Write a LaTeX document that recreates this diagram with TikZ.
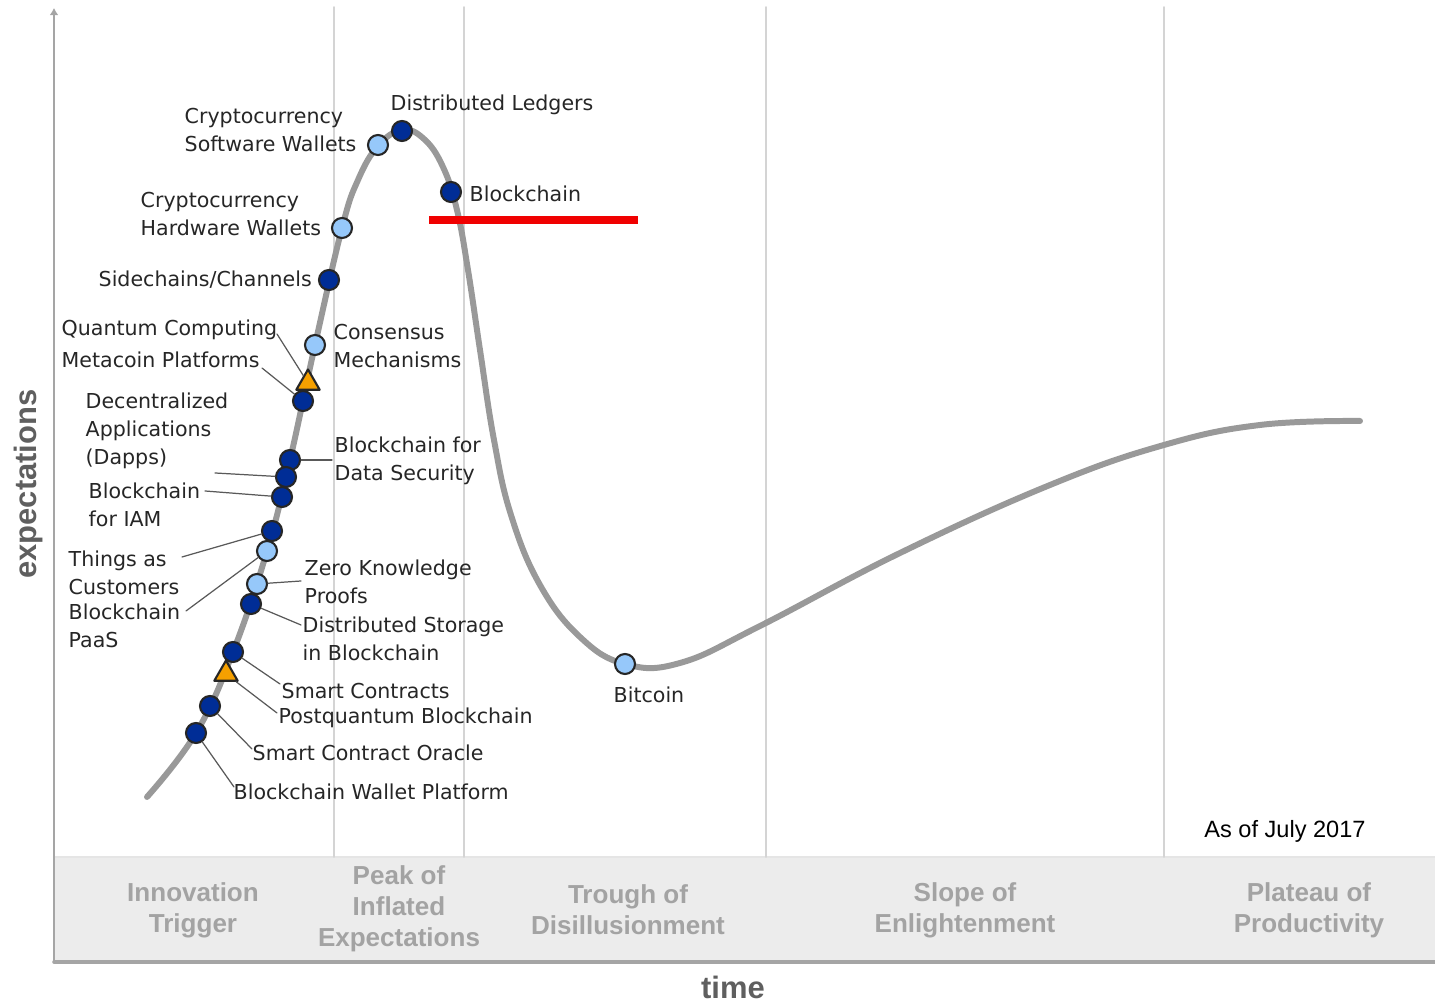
\documentclass[tikz,border=0pt]{standalone}
\usepackage{fontspec}
\usepackage{tikz}
\usetikzlibrary{shapes.geometric}
\usetikzlibrary{arrows.meta}
\newfontfamily\lblfont{DejaVu Sans}
\newfontfamily\bandfont{Liberation Sans}
\definecolor{curvegray}{RGB}{153,153,153}
\definecolor{phasegray}{RGB}{212,212,212}
\definecolor{axisgray}{RGB}{165,165,165}
\definecolor{bandfill}{RGB}{236,236,236}
\definecolor{bandtext}{RGB}{163,163,163}
\definecolor{axistext}{RGB}{95,95,95}
\definecolor{dotdark}{RGB}{0,45,150}
\definecolor{dotlight}{RGB}{150,200,250}
\definecolor{triorange}{RGB}{245,160,0}
\definecolor{markred}{RGB}{240,0,0}

\begin{document}
\begin{tikzpicture}[x=0.01cm,y=-0.01cm,line cap=round,line join=round,
  hype/.style={line width=1.7pt,color=curvegray},
  phase/.style={line width=0.45pt,color=phasegray},
  axis/.style={line width=0.8pt,color=axisgray},
  darkdot/.style={circle,draw=black!85,line width=0.6pt,fill=dotdark,inner sep=0pt,minimum size=2mm},
  lightdot/.style={circle,draw=black!85,line width=0.6pt,fill=dotlight,inner sep=0pt,minimum size=2mm},
  risk/.style={regular polygon,regular polygon sides=3,draw=black!85,line width=0.6pt,fill=triorange,inner sep=0pt,minimum size=2.7mm},
  lbl/.style={font={\lblfont\fontsize{5.85}{8}\selectfont},text=black!85,inner sep=0pt,align=left},
  leader/.style={line width=0.35pt,color=black!65},
  band/.style={font={\bandfont\bfseries\fontsize{7.4}{8.8}\selectfont},text=bandtext,align=center},
  axlbl/.style={font={\bandfont\bfseries\fontsize{8.8}{10}\selectfont},text=axistext}]
\useasboundingbox (0,0) rectangle (1435,1001);
\fill[bandfill] (54,857) rectangle (1435,962);
\draw[color=white!90!black,line width=0.4pt] (54,857) -- (1435,857);
\draw[phase] (334,7) -- (334,857);
\draw[phase] (464,7) -- (464,857);
\draw[phase] (766,7) -- (766,857);
\draw[phase] (1164,7) -- (1164,857);
\draw[axis,line width=1pt] (54,962) -- (1435,962);
\draw[axis,-{Latex[length=2pt,width=2.5pt]}] (54,962) -- (54,8);
\node[band] (it) at (193,910) {Innovation\\Trigger};
\node[band] (pie) at (399,909) {Peak of\\Inflated\\Expectations};
\node[band] (td) at (628,910) {Trough of\\Disillusionment};
\node[band] (se) at (965,910) {Slope of\\Enlightenment};
\node[band] (pp) at (1309,910) {Plateau of\\Productivity};
\node[axlbl] (time) at (733,987) {time};
\node[axlbl,rotate=90] (expect) at (28,484) {expectations};
\node[font={\bandfont\fontsize{6.7}{8}\selectfont},inner sep=0pt] (asof) at (1285,831) {As of July 2017};
\draw[hype] plot[smooth,tension=0.7] coordinates {(147,797) (196,733) (233,652) (267,551) (290,460) (315,345) (342,228) (358,180) (378,146) (402,130) (424,139) (443,167) (457,210) (468,270) (480,350) (494,440) (511,515) (540,585) (580,637) (625,664) (680,663) (760,626) (900,553) (1050,485) (1164,445) (1260,425) (1360,421)};
\draw[color=markred,line width=2pt,line cap=butt] (429,220) -- (638,220);
\node[darkdot] (dl) at (402,131) {};
\node[lightdot] (csw) at (378,145) {};
\node[darkdot] (bc) at (451,192) {};
\node[lightdot] (chw) at (342,228) {};
\node[darkdot] (sc) at (329,280) {};
\node[lightdot] (cm) at (315,345) {};
\node[risk] (qc) at (308,383) {};
\node[darkdot] (mp) at (303,401) {};
\node[darkdot] (bds) at (290,460) {};
\node[darkdot] (dapps) at (286,477) {};
\node[darkdot] (iam) at (282,497) {};
\node[darkdot] (tac) at (272,531) {};
\node[lightdot] (paas) at (267,551) {};
\node[lightdot] (zkp) at (257,584) {};
\node[darkdot] (dsb) at (251,604) {};
\node[darkdot] (smc) at (233,652) {};
\node[risk] (pqb) at (226,674) {};
\node[darkdot] (sco) at (210,706) {};
\node[darkdot] (bwp) at (196,733) {};
\node[lightdot] (btc) at (625,664) {};
\node[lbl,anchor=west] (dl-t) at (390,105) {Distributed Ledgers};
\node[lbl,anchor=west] (csw-t) at (184,130) {Cryptocurrency\\Software Wallets};
\node[lbl,anchor=west] (bc-t) at (469,194) {Blockchain};
\node[lbl,anchor=west] (chw-t) at (140,214) {Cryptocurrency\\Hardware Wallets};
\node[lbl,anchor=west] (sc-t) at (98,280) {Sidechains/Channels};
\node[lbl,anchor=west] (qc-t) at (61,330) {Quantum Computing};
\node[lbl,anchor=west] (mp-t) at (61,360) {Metacoin Platforms};
\node[lbl,anchor=west] (cm-t) at (333,346) {Consensus\\Mechanisms};
\node[lbl,anchor=west] (dapps-t) at (85,431) {Decentralized\\Applications\\(Dapps)};
\node[lbl,anchor=west] (bds-t) at (334,461) {Blockchain for\\Data Security};
\node[lbl,anchor=west] (iam-t) at (88,505) {Blockchain\\for IAM};
\node[lbl,anchor=west] (tac-t) at (68,573) {Things as\\Customers};
\node[lbl,anchor=west] (paas-t) at (68,626) {Blockchain\\PaaS};
\node[lbl,anchor=west] (zkp-t) at (304,582) {Zero Knowledge\\Proofs};
\node[lbl,anchor=west] (dsb-t) at (302,639) {Distributed Storage\\in Blockchain};
\node[lbl,anchor=west] (smc-t) at (281,691) {Smart Contracts};
\node[lbl,anchor=west] (pqb-t) at (278,718) {Postquantum Blockchain};
\node[lbl,anchor=west] (sco-t) at (252,753) {Smart Contract Oracle};
\node[lbl,anchor=west] (bwp-t) at (233,792) {Blockchain Wallet Platform};
\node[lbl] (btc-t) at (649,695) {Bitcoin};
\coordinate (qc-e) at (277,334);
\coordinate (mp-e) at (262,368);
\coordinate (bds-e) at (332,460);
\coordinate (dapps-e) at (215,473);
\coordinate (iam-e) at (205,491);
\coordinate (tac-e) at (182,557);
\coordinate (paas-e) at (186,611);
\coordinate (zkp-e) at (301,581);
\coordinate (dsb-e) at (301,625);
\coordinate (smc-e) at (280,684);
\coordinate (pqb-e) at (277,713);
\coordinate (sco-e) at (252,749);
\coordinate (bwp-e) at (234,787);
\draw[leader] (qc-e) -- (qc);
\draw[leader] (mp-e) -- (mp);
\draw[leader] (bds) -- (bds-e);
\draw[leader] (dapps-e) -- (dapps);
\draw[leader] (iam-e) -- (iam);
\draw[leader] (tac-e) -- (tac);
\draw[leader] (paas-e) -- (paas);
\draw[leader] (zkp) -- (zkp-e);
\draw[leader] (dsb) -- (dsb-e);
\draw[leader] (smc) -- (smc-e);
\draw[leader] (pqb) -- (pqb-e);
\draw[leader] (sco) -- (sco-e);
\draw[leader] (bwp) -- (bwp-e);
\end{tikzpicture}
\end{document}
